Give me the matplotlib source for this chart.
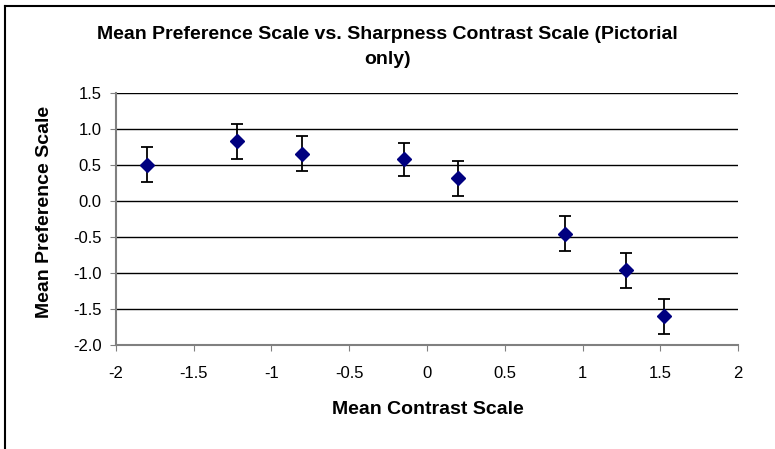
import matplotlib
matplotlib.use('Agg')
import matplotlib.pyplot as plt
from matplotlib.lines import Line2D

plt.rcParams['font.family'] = ['Liberation Sans', 'DejaVu Sans']

# values
contrast = [-1.80, -1.22, -0.80, -0.145, 0.20, 0.886, 1.28, 1.52]
preference = [0.51, 0.83, 0.66, 0.58, 0.32, -0.45, -0.96, -1.60]
errors = [0.245, 0.245, 0.245, 0.23, 0.245, 0.245, 0.245, 0.245]

x_ticks = [-2, -1.5, -1, -0.5, 0, 0.5, 1, 1.5, 2]
x_labels = ['-2', '-1.5', '-1', '-0.5', '0', '0.5', '1', '1.5', '2']
y_ticks = [-2.0, -1.5, -1.0, -0.5, 0.0, 0.5, 1.0, 1.5]

fig = plt.figure(figsize=(7.75, 4.49), dpi=100)
ax = fig.add_axes([0.1493, 0.2316, 0.8033, 0.5606])

ax.errorbar(contrast, preference, yerr=errors, fmt='none', ecolor='black',
            elinewidth=1.3, capsize=4.5, capthick=1.3, zorder=3)
ax.plot(contrast, preference, 'D', color='#000080', markersize=7.3, zorder=4)

ax.set_xlim(-2, 2)
ax.set_ylim(-2.0, 1.5)
ax.set_xticks(x_ticks)
ax.set_xticklabels(x_labels)
ax.set_yticks(y_ticks)
ax.set_yticklabels([f'{v:.1f}' for v in y_ticks])
ax.tick_params(labelsize=12, direction='out', length=4, color='#808080')
ax.tick_params(axis='x', pad=11)
ax.tick_params(axis='y', pad=6)

ax.grid(True, axis='y', color='black', linewidth=1)
ax.set_axisbelow(True)
for side in ['top', 'right']:
    ax.spines[side].set_visible(False)
for side in ['left', 'bottom']:
    ax.spines[side].set_color('#808080')
    ax.spines[side].set_linewidth(1.5)

fig.text(0.5, 1 - 47 / 449, 'Mean Preference Scale vs. Sharpness Contrast Scale (Pictorial\nonly)',
         ha='center', va='center', fontsize=14, fontweight='bold', linespacing=1.65)
fig.text(428 / 775, 1 - 410 / 449, 'Mean Contrast Scale', ha='center', va='center',
         fontsize=14, fontweight='bold')
fig.text(45 / 775, 1 - 212 / 449, 'Mean Preference Scale', ha='center', va='center',
         rotation=90, fontsize=14, fontweight='bold')

# chart area border (only top and left visible in the crop)
fig.add_artist(Line2D([5 / 775, 5 / 775], [0, 1 - 6 / 449], transform=fig.transFigure,
                      color='black', linewidth=1.5))
fig.add_artist(Line2D([5 / 775, 1], [1 - 6 / 449, 1 - 6 / 449], transform=fig.transFigure,
                      color='black', linewidth=1.5))

fig.savefig('out.png', dpi=100)
